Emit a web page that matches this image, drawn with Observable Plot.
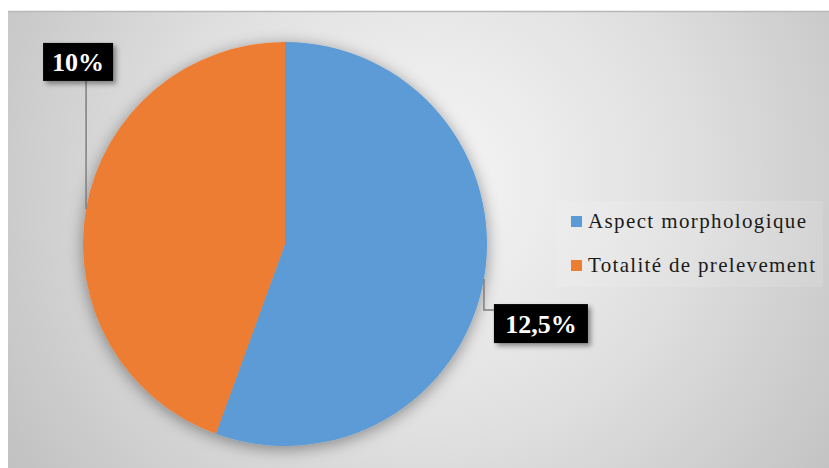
<!DOCTYPE html>
<html><head><meta charset="utf-8">
<script src="https://cdn.jsdelivr.net/npm/d3@7"></script>
<script src="https://cdn.jsdelivr.net/npm/@observablehq/plot@0.6"></script>
<style>body{margin:0;background:#fff}#chart{width:829px;height:468px}</style>
</head><body><div id="chart"></div>
<script>
// ---- data ----
const categories = ["Aspect morphologique", "Totalité de prelevement"];
const values = [12.5, 10];
const labels = ["12,5%", "10%"];
const colors = ["#5b9bd5", "#ed7d31"];

const rows = categories.map((c, i) => ({category: c, value: values[i], label: labels[i]}));
const arcs = d3.pie().sort(null).value(d => d.value)(rows);

const color = d3.scaleOrdinal(categories, colors);
const SERIF = "'Liberation Serif', 'Times New Roman', Tinos, 'DejaVu Serif', serif";

function defs() {
  const svg = d3.create("svg:g");
  const d = svg.append("defs");
  const g = d.append("radialGradient").attr("id", "bg").attr("gradientUnits", "userSpaceOnUse")
    .attr("cx", 430).attr("cy", 180).attr("r", 560);
  g.append("stop").attr("offset", "0%").attr("stop-color", "#f6f6f6");
  g.append("stop").attr("offset", "45%").attr("stop-color", "#e0e0e0");
  g.append("stop").attr("offset", "100%").attr("stop-color", "#bbbbbb");
  const f = d.append("filter").attr("id", "pieShadow").attr("x", "-20%").attr("y", "-20%").attr("width", "140%").attr("height", "140%");
  f.append("feDropShadow").attr("dx", 0).attr("dy", 3).attr("stdDeviation", 8).attr("flood-color", "#000").attr("flood-opacity", 0.4);
  const f2 = d.append("filter").attr("id", "boxShadow").attr("x", "-30%").attr("y", "-30%").attr("width", "160%").attr("height", "160%");
  f2.append("feDropShadow").attr("dx", 3).attr("dy", 3).attr("stdDeviation", 2.5).attr("flood-color", "#000").attr("flood-opacity", 0.4);
  svg.append("rect").attr("x", 8).attr("y", 11).attr("width", 821).attr("height", 457).attr("fill", "url(#bg)");
  svg.append("line").attr("x1", 8).attr("x2", 829).attr("y1", 11.5).attr("y2", 11.5).attr("stroke", "#b8b8b8").attr("stroke-width", 1.5);
  return svg.node();
}

function pieMark(index, scales) {
  const {x, y} = scales;
  const cx = x(0), cy = y(0), r = x(1) - x(0);
  const g = d3.create("svg:g").attr("transform", `translate(${cx},${cy})`);
  const arc = d3.arc().innerRadius(0).outerRadius(r);
  g.append("g").attr("filter", "url(#pieShadow)")
    .selectAll("path").data(arcs).join("path")
    .attr("d", arc).attr("fill", d => color(d.data.category));
  return g.node();
}

// label layout offsets (relative to leader anchor on the arc edge)
const labelLayout = {
  "Aspect morphologique": {route: "down-right", bx: 10, by: 25, w: 94, h: 39},
  "Totalité de prelevement": {route: "up", bx: -43, by: -166, w: 70, h: 38}
};

function labelMark(index, scales) {
  const {x, y} = scales;
  const g = d3.create("svg:g");
  for (const a of arcs) {
    const mid = (a.startAngle + a.endAngle) / 2;
    const ax = x(Math.sin(mid)), ay = y(Math.cos(mid));
    const L = labelLayout[a.data.category];
    const bx = ax + L.bx, by = ay + L.by;
    let pts;
    if (L.route === "up") pts = [[ax, ay], [ax, by + L.h]];
    else pts = [[ax, ay], [ax, by + 6], [bx, by + 6]];
    g.append("path").attr("d", d3.line()(pts)).attr("fill", "none").attr("stroke", "#7f7f7f").attr("stroke-width", 1.5);
    g.append("rect").attr("x", bx).attr("y", by).attr("width", L.w).attr("height", L.h)
      .attr("fill", "#000").attr("filter", "url(#boxShadow)");
    g.append("text").attr("x", bx + L.w / 2).attr("y", by + L.h / 2 + 9)
      .attr("style", `text-anchor:middle;font-family:${SERIF};font-weight:bold;font-size:26px`)
      .attr("fill", "#fff").text(a.data.label);
  }
  return g.node();
}

const legendWidths = [218, 227];

function legendMark() {
  const g = d3.create("svg:g");
  g.append("rect").attr("x", 556).attr("y", 201).attr("width", 267).attr("height", 86)
    .attr("fill", "#fff").attr("fill-opacity", 0.12);
  categories.forEach((c, i) => {
    const yy = 221 + i * 44;
    g.append("rect").attr("x", 571).attr("y", yy - 5).attr("width", 11).attr("height", 11).attr("fill", color(c));
    g.append("text").attr("x", 588).attr("y", yy + 7)
      .attr("style", `text-anchor:start;font-family:${SERIF};font-size:21px`)
      .attr("textLength", legendWidths[i]).attr("lengthAdjust", "spacing")
      .attr("fill", "#1a1a1a").text(c);
  });
  return g.node();
}

const plot = Plot.plot({
  width: 829,
  height: 468,
  margin: 0,
  style: {background: "#fff", overflow: "visible"},
  x: {domain: [-1, 1], range: [83, 487], axis: null},
  y: {domain: [-1, 1], range: [446, 42], axis: null},
  marks: [
    defs,
    pieMark,
    labelMark,
    legendMark
  ]
});
document.getElementById("chart").appendChild(plot);
</script>
</body></html>
